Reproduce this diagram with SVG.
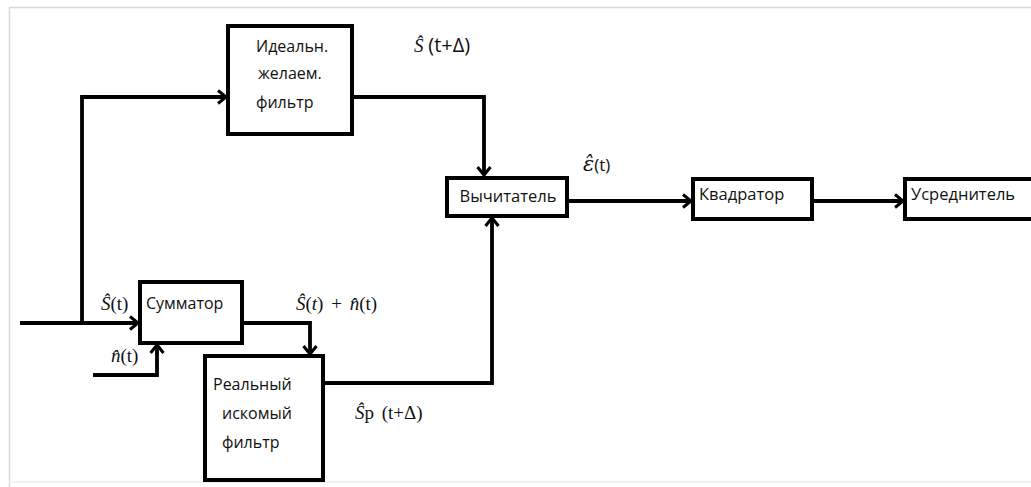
<svg xmlns="http://www.w3.org/2000/svg" width="1031" height="487" viewBox="0 0 1031 487">
<style>
.box{fill:#fff;stroke:#000;stroke-width:4}
.ln{fill:none;stroke:#000;stroke-width:3.8;stroke-linejoin:miter}
.t{font-family:"Open Sans","Liberation Sans",sans-serif;font-size:16px;fill:#111}
.m{font-family:"Liberation Serif",serif;font-size:19px;fill:#111}
.mi{font-style:italic}
.s{font-family:"Open Sans","Liberation Sans",sans-serif}
.c{font-family:"Open Sans","Liberation Sans",sans-serif;font-size:16.5px;fill:#111}
</style>
<defs>
<marker id="ar" markerWidth="14" markerHeight="16" refX="11" refY="8" orient="auto" markerUnits="userSpaceOnUse">
<polyline points="3,1.5 11,8 3,14.5" fill="none" stroke="#000" stroke-width="3"/>
</marker>
</defs>
<rect x="0" y="0" width="1031" height="487" fill="#fff"/>
<path d="M9.5 487 V7.5 H1031" fill="none" stroke="#d8d8d8" stroke-width="1.5"/>
<line x1="9" y1="482" x2="1031" y2="482" stroke="#eeeeee" stroke-width="1.5"/>

<g id="connectors">
<path class="ln" d="M82 323 V97 H226" marker-end="url(#ar)"/>
<path class="ln" d="M352 97 H484 V175" marker-end="url(#ar)"/>
<path class="ln" d="M567 201 H691" marker-end="url(#ar)"/>
<path class="ln" d="M812 201 H903" marker-end="url(#ar)"/>
<path class="ln" d="M20 323 H138" marker-end="url(#ar)"/>
<path class="ln" d="M93 375 H157 V345" marker-end="url(#ar)"/>
<path class="ln" d="M242 323 H310 V354" marker-end="url(#ar)"/>
<path class="ln" d="M323 383 H492 V218" marker-end="url(#ar)"/>
</g>

<g id="ideal">
<rect class="box" x="228" y="26" width="124" height="108"/>
<text class="t" x="256" y="52">Идеальн.</text>
<text class="t" x="258" y="79">желаем.</text>
<text class="t" x="256" y="108">фильтр</text>
</g>
<g id="sub">
<rect class="box" x="447" y="178" width="120" height="38"/>
<text class="c" x="508" y="202" text-anchor="middle">Вычитатель</text>
</g>
<g id="sq">
<rect class="box" x="693" y="179" width="119" height="40"/>
<text class="c" x="699" y="200">Квадратор</text>
</g>
<g id="avg">
<rect class="box" x="905" y="179" width="140" height="40"/>
<text class="c" x="911" y="200">Усреднитель</text>
</g>
<g id="sum">
<rect class="box" x="140" y="282" width="102" height="61"/>
<text class="t" x="146" y="309">Сумматор</text>
</g>
<g id="real">
<rect class="box" x="205" y="356" width="118" height="124"/>
<text class="t" x="213" y="390">Реальный</text>
<text class="t" x="222" y="419">искомый</text>
<text class="t" x="222" y="448">фильтр</text>
</g>

<g id="labels">
<text class="m" x="414" y="52" font-size="25"><tspan class="mi">Ŝ</tspan> <tspan class="s" font-size="20">(t+Δ)</tspan></text>
<text x="583" y="171" font-size="21" fill="#111"><tspan font-family="DejaVu Serif" font-style="italic">ε̂</tspan><tspan class="s" font-size="17">(t)</tspan></text>
<text class="m" x="101" y="310"><tspan class="mi">Ŝ</tspan>(t)</text>
<text class="m" x="111" y="362"><tspan class="mi">n̂</tspan>(t)</text>
<text class="m" x="296" y="310" word-spacing="3"><tspan class="mi">Ŝ</tspan>(<tspan class="mi">t</tspan>) + <tspan class="mi">n̂</tspan>(t)</text>
<text class="m" x="355" y="419" word-spacing="3"><tspan class="mi">Ŝ</tspan>p (t+Δ)</text>
</g>
</svg>
